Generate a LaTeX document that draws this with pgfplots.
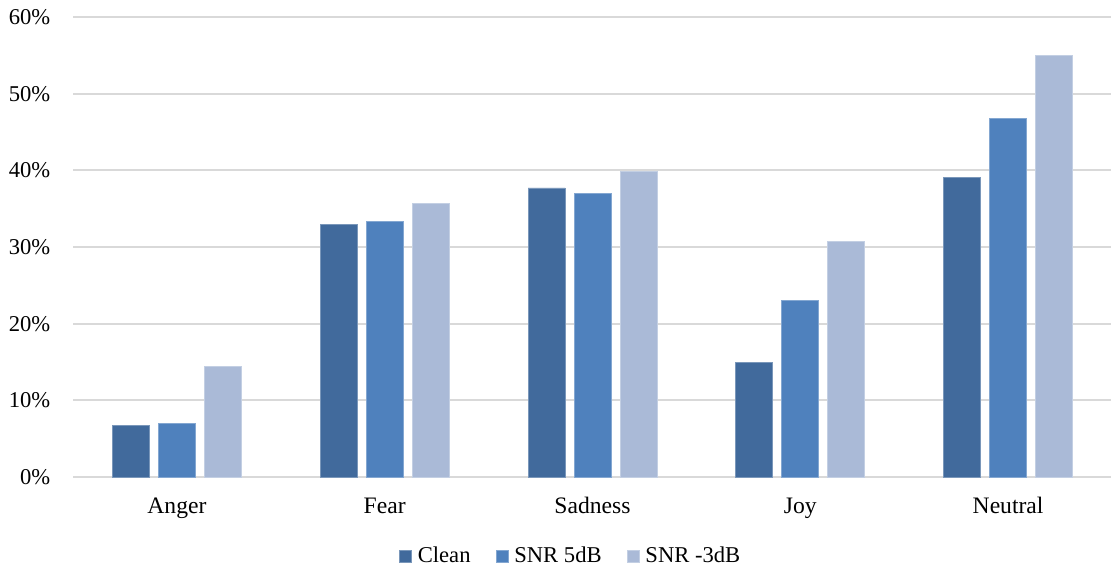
\documentclass[border=0pt]{standalone}
\usepackage{fontspec}
\setmainfont{Liberation Serif}
\usepackage{pgfplots}
\pgfplotsset{compat=1.18}

\definecolor{cClean}{HTML}{416A9C}
\definecolor{cFive}{HTML}{4F81BD}
\definecolor{cMinus}{HTML}{AABAD7}
\definecolor{gridgray}{HTML}{D9D9D9}

\newcommand{\chartfont}{\fontsize{11.3pt}{13pt}\selectfont}
\newcommand{\catfont}{\fontsize{11.8pt}{13pt}\selectfont}

\begin{document}
\begin{tikzpicture}
\begin{axis}[
  name=ax,
  scale only axis,
  width=519.5pt, height=230pt,
  ybar=4.5pt, bar width=18.5pt,
  xmin=-0.5, xmax=4.5,
  ymin=0, ymax=60,
  xtick={0,1,2,3,4},
  xticklabels={Anger,Fear,Sadness,Joy,Neutral},
  ytick={0,10,...,60},
  yticklabel={\pgfmathprintnumber{\tick}\%},
  /pgf/number format/assume math mode=true,
  ymajorgrids,
  grid style={gridgray, line width=0.9pt},
  axis line style={draw=none},
  major tick length=0pt,
  tick label style={font=\chartfont, inner sep=0pt},
  xticklabel style={font=\catfont, anchor=base, yshift=-18.2pt},
  yticklabel style={anchor=east, xshift=-11.2pt},
  legend columns=3,
  legend style={
    at={(axis description cs:0.3138,-0.1717)}, anchor=west,
    draw=none, inner sep=0pt, outer sep=0pt,
    font=\chartfont,
    nodes={inner sep=0pt},
    /tikz/every odd column/.append style={column sep=3pt},
    /tikz/every even column/.append style={column sep=12.5pt},
  },
  legend image code/.code={\fill[#1] (0pt,-3pt) rectangle (6pt,3pt);},
]
% Clean
\addplot[fill=cClean, draw=cClean!70!white, line width=0.4pt]
  coordinates {(0,6.7) (1,32.9) (2,37.7) (3,15.0) (4,39.1)};
% SNR 5dB
\addplot[fill=cFive, draw=cFive!70!white, line width=0.4pt]
  coordinates {(0,7.0) (1,33.3) (2,37.0) (3,23.0) (4,46.8)};
% SNR -3dB
\addplot[fill=cMinus, draw=cMinus!70!white, line width=0.4pt]
  coordinates {(0,14.4) (1,35.7) (2,39.9) (3,30.7) (4,55.0)};
\legend{Clean, SNR 5dB, SNR -3dB}
\end{axis}
\pgfresetboundingbox
\path (ax.south west) ++(-36.5pt,-49pt) rectangle ++(555.5pt,287.5pt);
\end{tikzpicture}
\end{document}
